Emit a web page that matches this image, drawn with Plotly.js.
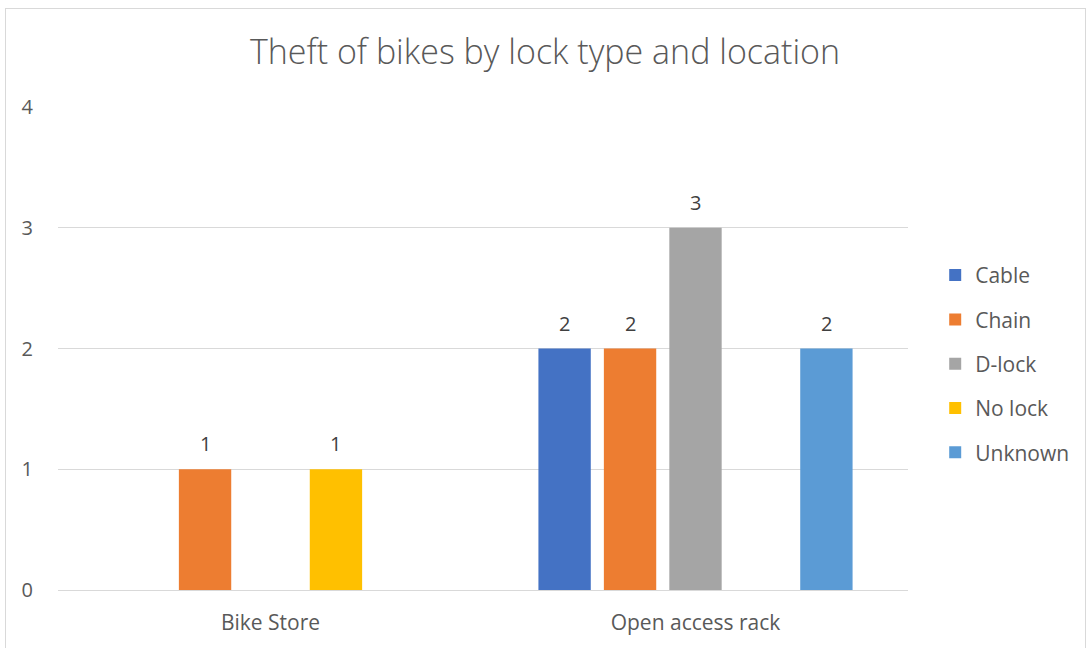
<!DOCTYPE html>
<html><head><meta charset="utf-8">
<script src="https://cdn.plot.ly/plotly-3.0.1.min.js"></script>
<style>
html,body{margin:0;padding:0;background:#fff;}
#frame{position:absolute;left:5px;top:8px;width:1081px;height:660px;border:1px solid #D9D9D9;box-sizing:border-box;pointer-events:none;z-index:2;}
#chart{position:absolute;left:0;top:0;width:1090px;height:648px;}
</style></head>
<body>
<div id="chart"></div><div id="frame"></div>
<script>
const categories = ["Bike Store", "Open access rack"];
const seriesNames = ["Cable", "Chain", "D-lock", "No lock", "Unknown"];
const cable   = [null, 2];
const chain   = [1, 2];
const dlock   = [null, 3];
const nolock  = [1, null];
const unknown = [null, 2];
const seriesValues = [cable, chain, dlock, nolock, unknown];
const colors = ["#4472C4", "#ED7D31", "#A5A5A5", "#FFC000", "#5B9BD5"];
const yTicks = [0, 1, 2, 3, 4];

const font = "'Open Sans', sans-serif";
const W = 1090, H = 648;
const margin = {l: 58, r: 182, t: 107, b: 58};
const bargap = 0.23;

const traces = seriesNames.map((name, i) => ({
  type: "bar",
  name: name,
  x: categories,
  y: seriesValues[i],
  marker: {color: colors[i]},
  legendgroup: "g" + i,
  hoverinfo: "none"
}));

// data labels placed through the axes: x = category, y = value; shift to the series slot within the group
const plotW = W - margin.l - margin.r;
const catW = plotW / categories.length;
const slotW = catW * (1 - bargap) / seriesNames.length;
const annotations = [];
seriesValues.forEach((vals, i) => {
  vals.forEach((v, j) => {
    if (v === null) return;
    annotations.push({
      xref: "x", yref: "y", x: categories[j], y: v,
      xshift: (i - (seriesNames.length - 1) / 2) * slotW,
      yshift: 10, yanchor: "bottom", showarrow: false,
      text: String(v), font: {family: font, size: 20, color: "#404040"}
    });
  });
});

const layout = {
  width: W, height: H,
  margin: margin,
  paper_bgcolor: "#fff", plot_bgcolor: "#fff",
  font: {family: font, color: "#595959", size: 21},
  title: {text: "Theft of bikes by lock type and location", x: 0.5, xref: "container", xanchor: "center",
          y: 1 - 52/H, yref: "container", yanchor: "middle",
          font: {family: font, size: 34, color: "#595959", weight: 300}},
  barmode: "group",
  bargap: bargap,
  bargroupgap: 0.2,
  annotations: annotations,
  xaxis: {showgrid: false, showline: false, zeroline: false, ticks: "", ticklabelstandoff: 18,
          tickfont: {family: font, size: 21, color: "#595959"}},
  yaxis: {range: [0, 4], tickvals: yTicks, showgrid: true, gridcolor: "#D9D9D9", gridwidth: 1,
          zeroline: true, zerolinecolor: "#D9D9D9", zerolinewidth: 1, showline: false, ticks: "",
          ticklabelstandoff: 24, tickfont: {family: font, size: 20, color: "#595959"}},
  legend: {x: 1.032, xanchor: "left", y: 0.468, yanchor: "middle", tracegroupgap: 14,
           font: {family: font, size: 21, color: "#595959"}, bgcolor: "rgba(0,0,0,0)"},
  showlegend: true
};
Plotly.newPlot("chart", traces, layout, {displayModeBar: false, staticPlot: true});
</script>
</body></html>
